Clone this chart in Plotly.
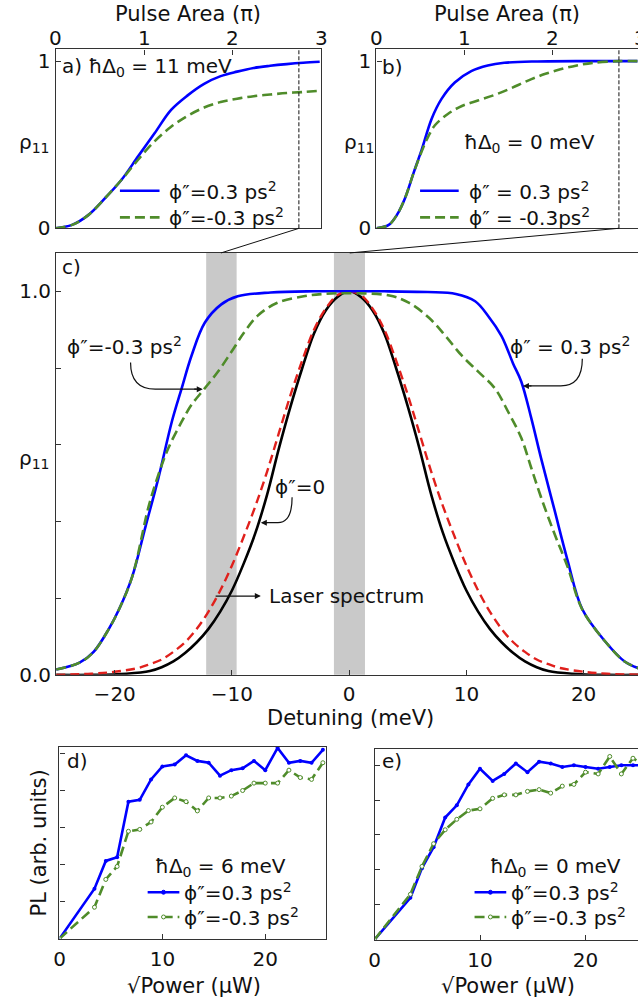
import plotly.graph_objects as go

W, H = 638, 1008
FONT = "DejaVu Sans"
TXT = "#111111"
SPINE = "#333333"
BLUE = "#0000ff"
GREEN = "#4f8c2a"
RED = "#e0201c"
BAND = "#c9c9c9"


def px(x):
    return x / W


def py(y):
    return 1 - y / H


# ---------------- data ----------------
# panel a (hbar Delta0 = 11 meV)
area_a = [0, 0.187, 0.373, 0.56, 0.746, 0.933, 1.119, 1.306, 1.493, 1.679, 1.866, 2.052, 2.239, 2.425, 2.612, 2.799, 2.985]
rho_a_pos = [0.0, 0.02, 0.08, 0.18, 0.29, 0.43, 0.568, 0.708, 0.795, 0.864, 0.91, 0.937, 0.959, 0.972, 0.982, 0.99, 0.996]
rho_a_neg = [0.0, 0.02, 0.08, 0.18, 0.29, 0.41, 0.52, 0.607, 0.673, 0.722, 0.755, 0.775, 0.79, 0.80, 0.809, 0.815, 0.822]

# panel b (hbar Delta0 = 0 meV)
area_b_pos = [0, 0.139, 0.232, 0.326, 0.42, 0.513, 0.625, 0.738, 0.888, 1.075, 1.262, 1.449, 1.824, 2.4, 2.96]
rho_b_pos = [0.0, 0.02, 0.08, 0.183, 0.33, 0.47, 0.654, 0.774, 0.872, 0.94, 0.974, 0.99, 0.998, 1.0, 1.0]
area_b_neg = [0, 0.139, 0.232, 0.326, 0.42, 0.513, 0.588, 0.663, 0.813, 0.963, 1.15, 1.337, 1.524, 1.712, 1.899, 2.086, 2.273, 2.461, 2.76, 2.96]
rho_b_neg = [0.0, 0.02, 0.08, 0.183, 0.33, 0.46, 0.55, 0.616, 0.685, 0.73, 0.764, 0.797, 0.837, 0.882, 0.921, 0.951, 0.974, 0.99, 1.0, 1.0]

# panel c
det_pos = [-25, -23, -21.8, -20.5, -19.63, -18.5, -17.38, -16.26, -15.13, -14.29, -13.45, -12.32, -10.91, -9.51, -6.7, -3, 0,
           3, 6.7, 9.1, 10.75, 11.87, 12.99, 13.42, 13.98, 14.68, 15.53, 16.37, 17.5, 18.62, 19.89, 21.9, 23.5, 25]
rho_pos = [0.014, 0.032, 0.06, 0.12, 0.171, 0.257, 0.386, 0.515, 0.66, 0.747, 0.832, 0.918, 0.966, 0.987, 0.997, 1.0, 1.0,
           1.0, 0.998, 0.993, 0.974, 0.935, 0.884, 0.855, 0.812, 0.765, 0.67, 0.565, 0.432, 0.30, 0.171, 0.085, 0.035, 0.014]

det_neg = [-25, -23, -21.8, -20.5, -19.63, -18.5, -17.1, -16.26, -15.41, -14.29, -13.45, -12.32, -11.2, -10.07, -8.95, -7.82, -6.13, -3.88, -2.19, 0,
           3.43, 5.12, 6.81, 8.21, 9.62, 11.03, 12.43, 13.56, 14.68, 15.53, 16.37, 17.5, 18.62, 19.88, 21.9, 23.5, 25]
rho_neg = [0.014, 0.032, 0.06, 0.12, 0.171, 0.257, 0.44, 0.523, 0.592, 0.66, 0.704, 0.747, 0.79, 0.841, 0.893, 0.936, 0.97, 0.987, 0.993, 0.995,
           0.989, 0.97, 0.931, 0.884, 0.832, 0.79, 0.747, 0.686, 0.618, 0.54, 0.463, 0.369, 0.283, 0.171, 0.085, 0.035, 0.014]

det_zero = [-25, -22, -20, -18, -17, -16, -15, -14, -13, -12, -11, -10, -9, -8, -7, -6, -5, -4, -3, -2, -1, 0,
            1, 2, 3, 4, 5, 6, 7, 8, 9, 10, 11, 12, 13, 14, 15, 16, 17, 18, 20, 22, 25]
rho_zero = [0.0, 0.003, 0.008, 0.018, 0.028, 0.04, 0.06, 0.085, 0.12, 0.165, 0.22, 0.285, 0.36, 0.44, 0.53, 0.63, 0.73, 0.82, 0.9, 0.955, 0.99, 1.0,
            0.99, 0.955, 0.9, 0.82, 0.73, 0.63, 0.53, 0.44, 0.36, 0.285, 0.22, 0.165, 0.12, 0.085, 0.06, 0.04, 0.028, 0.018, 0.008, 0.003, 0.0]

det_laser = [-25, -22, -19, -17, -16, -15, -14, -13, -12, -11, -10, -9, -8, -7, -6, -5, -4, -3, -2, -1, 0,
             1, 2, 3, 4, 5, 6, 7, 8, 9, 10, 11, 12, 13, 14, 15, 16, 17, 19, 22, 25]
laser = [0.0, 0.0, 0.003, 0.01, 0.02, 0.035, 0.057, 0.085, 0.12, 0.165, 0.22, 0.29, 0.37, 0.47, 0.59, 0.7, 0.8, 0.89, 0.95, 0.985, 1.0,
         0.985, 0.95, 0.89, 0.8, 0.7, 0.59, 0.47, 0.37, 0.29, 0.22, 0.165, 0.12, 0.085, 0.057, 0.035, 0.02, 0.01, 0.003, 0.0, 0.0]

# panels d, e (sqrt power)
sqrt_power = [0, 3.4, 4.5, 5.6, 6.7, 7.8, 8.9, 10.0, 11.2, 12.3, 13.4, 14.5, 15.6, 16.7, 17.8, 18.9, 20.0, 21.2, 22.3, 23.4, 24.5, 25.6]
pl_d_pos = [0, 0.27, 0.42, 0.44, 0.74, 0.75, 0.86, 0.93, 0.94, 0.99, 0.96, 0.95, 0.88, 0.91, 0.92, 0.96, 0.91, 1.03, 0.95, 0.96, 0.95, 1.02]
pl_d_neg = [0, 0.17, 0.32, 0.39, 0.58, 0.59, 0.63, 0.71, 0.76, 0.74, 0.69, 0.76, 0.76, 0.77, 0.80, 0.84, 0.84, 0.84, 0.91, 0.87, 0.86, 0.95]
pl_e_pos = [0, 0.24, 0.41, 0.53, 0.70, 0.77, 0.89, 0.98, 0.91, 0.95, 1.01, 0.96, 1.02, 1.01, 0.99, 1.0, 0.99, 0.98, 0.99, 1.0, 1.0, 1.0]
pl_e_neg = [0, 0.26, 0.42, 0.55, 0.63, 0.69, 0.74, 0.75, 0.81, 0.83, 0.83, 0.85, 0.86, 0.84, 0.88, 0.89, 0.96, 0.95, 1.05, 0.95, 1.04, 1.0]

area_ticks = [0, 1, 2, 3]
bands = [(-12.2, -9.6), (-1.3, 1.35)]
zoom_area = 2.75

# ---------------- figure ----------------
fig = go.Figure()


def line(x, y, xa, ya, color, width=2.6, dash=None, shape="spline"):
    fig.add_trace(go.Scatter(x=x, y=y, xaxis=xa, yaxis=ya, mode="lines",
                             line=dict(color=color, width=width, dash=dash, shape=shape),
                             showlegend=False, hoverinfo="skip"))


DASH = "10px,5px"
line(area_a, rho_a_pos, "x", "y", BLUE)
line(area_a, rho_a_neg, "x", "y", GREEN, dash=DASH)
line(area_b_pos, rho_b_pos, "x2", "y2", BLUE)
line(area_b_neg, rho_b_neg, "x2", "y2", GREEN, dash=DASH)

line(det_laser, laser, "x3", "y3", "#000000", width=2.6)
line(det_zero, rho_zero, "x3", "y3", RED, width=2.4, dash="9px,5px")
line(det_pos, rho_pos, "x3", "y3", BLUE)
line(det_neg, rho_neg, "x3", "y3", GREEN, dash=DASH)

for xa, ya, yp, yn in (("x4", "y4", pl_d_pos, pl_d_neg), ("x5", "y5", pl_e_pos, pl_e_neg)):
    fig.add_trace(go.Scatter(x=sqrt_power, y=yp, xaxis=xa, yaxis=ya, mode="lines+markers",
                             line=dict(color=BLUE, width=2.6),
                             marker=dict(size=4, color=BLUE),
                             showlegend=False, hoverinfo="skip"))
    fig.add_trace(go.Scatter(x=sqrt_power, y=yn, xaxis=xa, yaxis=ya, mode="lines+markers",
                             line=dict(color=GREEN, width=2.6, dash=DASH),
                             marker=dict(size=4, color="white", line=dict(color=GREEN, width=1)),
                             showlegend=False, hoverinfo="skip"))

tickfont = dict(family=FONT, size=20, color=TXT)
base = dict(showline=True, linecolor=SPINE, linewidth=1.3, ticks="inside", ticklen=5,
            tickcolor=SPINE, tickwidth=1, tickfont=tickfont, showgrid=False, zeroline=False)

ya_dom = [py(231), py(50)]
B_MAX = (638 - 374) / 89.0
fig.update_layout(
    width=W, height=H, margin=dict(l=0, r=0, t=0, b=0),
    paper_bgcolor="white", plot_bgcolor="white",
    font=dict(family=FONT, size=20, color=TXT),
    xaxis=dict(base, domain=[px(50), px(318)], range=[0, 3], side="top", anchor="y",
               mirror=True, tickvals=area_ticks, showticklabels=False),
    yaxis=dict(base, domain=ya_dom, range=[0, 1.07], anchor="x", mirror=True,
               tickvals=[0, 1], ticktext=["0", "1"]),
    xaxis2=dict(base, domain=[px(374), 1], range=[0, B_MAX], side="top",
                anchor="y2", mirror=True, tickvals=area_ticks, showticklabels=False),
    yaxis2=dict(base, domain=ya_dom, range=[0, 1.07], anchor="x2",
                tickvals=[0, 1], ticktext=["0", "1"]),
    xaxis3=dict(base, domain=[px(50.6), 1], range=[-25, (638 - 346) / 11.85], anchor="y3",
                mirror=True, tickvals=[-20, -10, 0, 10, 20], ticklabelstandoff=1),
    yaxis3=dict(base, domain=[py(683), py(256)], range=[0, 1.10], anchor="x3",
                tickvals=[0, 0.2, 0.4, 0.6, 0.8, 1.0], ticktext=["0.0", "", "", "", "", "1.0"]),
    xaxis4=dict(base, domain=[px(54), px(323)], range=[0, 25.9], anchor="y4", mirror=True,
                tickvals=[0, 10, 20], ticklabelstandoff=2),
    yaxis4=dict(base, domain=[py(950), py(756)], range=[0, 1.035], anchor="x4", mirror=True,
                tickvals=[0, 0.2, 0.4, 0.6, 0.8, 1.0], showticklabels=False),
    xaxis5=dict(base, domain=[px(372), 1], range=[0, (638 - 372) / 10.65], anchor="y5",
                mirror=True, tickvals=[0, 10, 20], ticklabelstandoff=2),
    yaxis5=dict(base, domain=[py(951), py(758)], range=[0, 1.093], anchor="x5",
                tickvals=[0, 0.2, 0.4, 0.6, 0.8, 1.0], showticklabels=False),
)

shapes = []
for b0, b1 in bands:
    shapes.append(dict(type="rect", xref="x3", yref="y3 domain", x0=b0, x1=b1, y0=0, y1=1,
                       fillcolor=BAND, line=dict(width=0), layer="below"))
for xr, yr in (("x", "y domain"), ("x2", "y2 domain")):
    shapes.append(dict(type="line", xref=xr, yref=yr, x0=zoom_area, x1=zoom_area, y0=0, y1=1,
                       line=dict(color="#111", width=1, dash="4px,2px")))
# connector lines between panels
for (x0, y0), (x1, y1) in (((296, 231), (217, 256)), ((619, 231), (347, 256))):
    shapes.append(dict(type="line", xref="paper", yref="paper", x0=px(x0), y0=py(y0),
                       x1=px(x1), y1=py(y1), line=dict(color="#111", width=1)))


def cx(p):
    return (p - 346) / 11.85


def cy(p):
    return (683 - p) / 388.0


def cpath(pts):
    (a, b), (c, d), (e, f), (g, h) = pts
    return (f"M {cx(a)},{cy(b)} Q {cx(c)},{cy(d)} {cx(e)},{cy(f)} L {cx(g)},{cy(h)}")


arrow_paths = [
    [(125, 367), (125, 394), (150, 394), (192, 394)],
    [(581.7, 363.3), (581.7, 390.7), (560, 390.7), (528, 390.7)],
    [(288.3, 503.3), (288.3, 529), (274, 529), (262, 529)],
]
for pts in arrow_paths:
    shapes.append(dict(type="path", xref="x3", yref="y3", path=cpath(pts),
                       line=dict(color="#111", width=1.2)))


# legend samples
def hseg(x0, x1, y, color, dash=None):
    shapes.append(dict(type="line", xref="paper", yref="paper", x0=px(x0), x1=px(x1),
                       y0=py(y), y1=py(y), line=dict(color=color, width=2.6, dash=dash)))


hseg(115, 155, 193, BLUE)
hseg(115, 155, 220, GREEN, DASH)
hseg(418, 457, 193, BLUE)
hseg(418, 457, 220, GREEN, DASH)
for x0 in (143, 473):
    hseg(x0, x0 + 32, 903, BLUE)
    hseg(x0, x0 + 32, 928, GREEN, DASH)
    cxm = x0 + 16
    shapes.append(dict(type="circle", xref="paper", yref="paper", x0=px(cxm - 2), x1=px(cxm + 2),
                       y0=py(903 + 2), y1=py(903 - 2), fillcolor=BLUE, line=dict(color=BLUE, width=1)))
    shapes.append(dict(type="circle", xref="paper", yref="paper", x0=px(cxm - 2), x1=px(cxm + 2),
                       y0=py(928 + 2), y1=py(928 - 2), fillcolor="white", line=dict(color=GREEN, width=1)))

fig.update_layout(shapes=shapes)

ann = []


def text(x, y, s, size=20, xanchor="left", angle=0, xref="paper"):
    ann.append(dict(x=px(x) if xref == "paper" else x, y=py(y), xref=xref, yref="paper", text=s,
                    showarrow=False, xanchor=xanchor, yanchor="middle", textangle=angle,
                    font=dict(family=FONT, size=size, color=TXT)))


# top-axis tick labels (pulse area)
for t in area_ticks:
    text(t, 38, str(t), 20, "center", xref="x")
    if t <= B_MAX:
        text(t, 38, str(t), 20, "center", xref="x2")
text(641, 38, "3", 20, "center")

PHI = "\u03d5\u2033"
text(184, 14, "Pulse Area (\u03c0)", 21, "center")
text(506, 14, "Pulse Area (\u03c0)", 21, "center")
text(29, 145, "\u03c1<sub>11</sub>", 20, "center")
text(357, 145, "\u03c1<sub>11</sub>", 20, "center")
text(29, 465, "\u03c1<sub>11</sub>", 20, "center")
text(55, 68, "a) \u0127\u0394<sub>0</sub> = 11 meV", 20)
text(378, 68, "b)", 20)
text(460, 145, "\u0127\u0394<sub>0</sub> = 0 meV", 20)
text(163, 193, PHI + "=0.3 ps<sup>2</sup>", 20)
text(163, 220, PHI + "=-0.3 ps<sup>2</sup>", 20)
text(465, 193, PHI + " = 0.3 ps<sup>2</sup>", 20)
text(465, 220, PHI + " = -0.3ps<sup>2</sup>", 20)
text(55, 270, "c)", 20)
text(60, 350, PHI + "=-0.3 ps<sup>2</sup>", 20)
text(507, 350, PHI + " = 0.3 ps<sup>2</sup>", 20)
text(270, 493, PHI + "=0", 20)
text(263, 603, "Laser spectrum", 20)
text(348, 727, "Detuning (meV)", 21, "center")
text(60, 770, "d)", 20)
text(378, 770, "e)", 20)
text(148, 877, "\u0127\u0394<sub>0</sub> = 6 meV", 20)
text(487, 877, "\u0127\u0394<sub>0</sub> = 0 meV", 20)
text(178, 903, PHI + "=0.3 ps<sup>2</sup>", 20)
text(178, 928, PHI + "=-0.3 ps<sup>2</sup>", 20)
text(508, 903, PHI + "=0.3 ps<sup>2</sup>", 20)
text(508, 928, PHI + "=-0.3 ps<sup>2</sup>", 20)
text(33, 853, "PL (arb. units)", 21, "center", -90)
text(190, 998, "\u221aPower (\u03bcW)", 21, "center")
text(507, 998, "\u221aPower (\u03bcW)", 21, "center")

# arrow heads
for hx, hy, dx in ((198, 394, -10), (521.7, 390.7, 10), (256.7, 529, 8), (256.7, 603.3, -46.7)):
    ann.append(dict(x=cx(hx), y=cy(hy), xref="x3", yref="y3", text="", showarrow=True,
                    ax=dx, ay=0, arrowhead=2, arrowsize=1, arrowwidth=1.2, arrowcolor="#111",
                    standoff=0, startstandoff=0))

fig.update_layout(annotations=ann)
fig.write_html("out.html")
